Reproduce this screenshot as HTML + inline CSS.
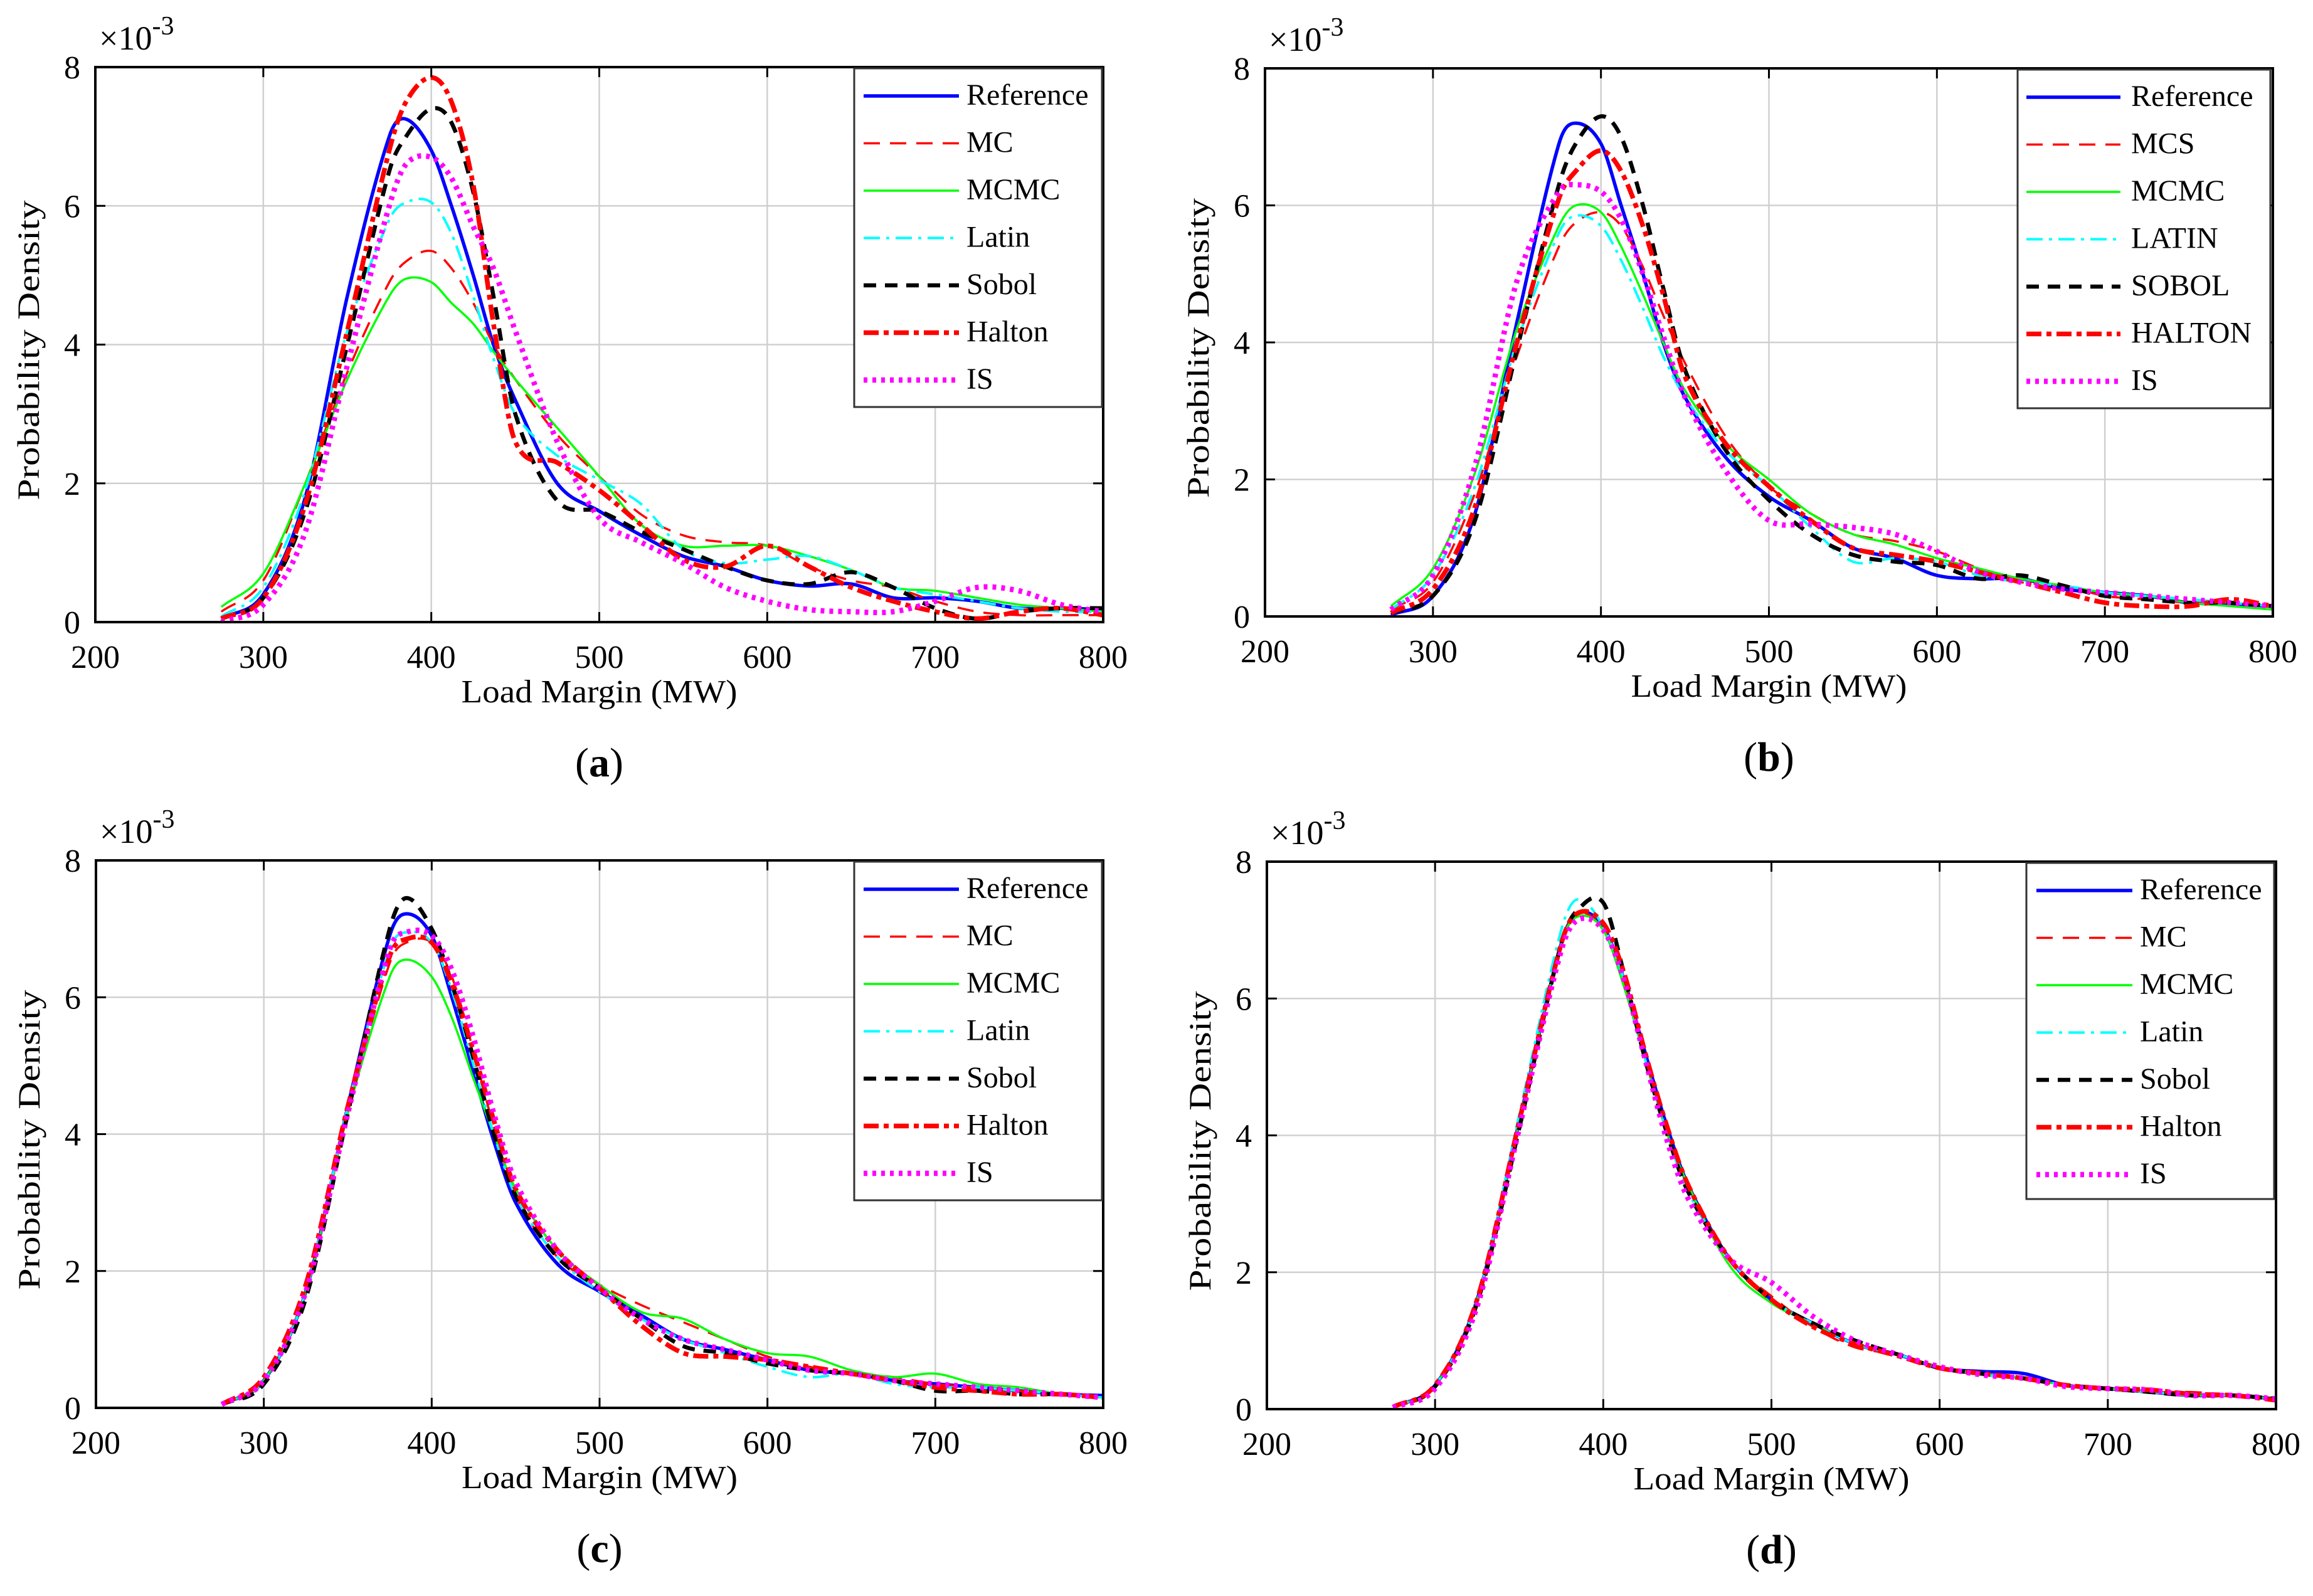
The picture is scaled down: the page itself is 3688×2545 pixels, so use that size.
<!DOCTYPE html>
<html><head><meta charset="utf-8"><style>
html,body{margin:0;padding:0;background:#fff;}
svg{display:block;font-family:"Liberation Serif",serif;}
</style></head><body>
<svg id="fig" width="3688" height="2545" viewBox="0 0 3688 2545" xmlns="http://www.w3.org/2000/svg"></svg>
<script>
// ---- data (y in units of 1e-3) ----
const xVals = [275,300,325,350,375,385,400,412,425,437,450,475,500,525,550,575,600,625,650,675,700,725,750,775,800];
const xTicks = [200,300,400,500,600,700,800];
const yTicks = [0,2,4,6,8];

const aRef   = [0.05,0.4,1.8,4.7,7.0,7.25,6.8,6.0,5.0,4.0,3.2,2.0,1.6,1.25,0.95,0.8,0.6,0.52,0.55,0.35,0.35,0.3,0.2,0.2,0.18];
const aMC    = [0.15,0.6,2.0,3.6,4.9,5.2,5.35,5.1,4.6,4.0,3.5,2.7,2.1,1.55,1.25,1.15,1.1,0.8,0.6,0.5,0.3,0.15,0.1,0.1,0.1];
const aMCMC  = [0.22,0.7,2.0,3.5,4.7,4.95,4.9,4.6,4.3,3.9,3.5,2.8,2.1,1.4,1.1,1.1,1.1,0.95,0.75,0.5,0.45,0.35,0.25,0.2,0.15];
const aLatin = [0.08,0.5,1.9,4.2,5.8,6.05,6.05,5.6,4.7,3.8,3.0,2.4,2.05,1.7,1.05,0.85,0.9,0.95,0.75,0.5,0.4,0.3,0.2,0.15,0.15];
const aSobol = [0.05,0.35,1.6,4.0,6.5,7.0,7.4,7.2,6.2,4.7,3.0,1.75,1.6,1.3,1.05,0.8,0.6,0.55,0.72,0.5,0.2,0.05,0.15,0.2,0.2];
const aHalton= [0.05,0.35,1.7,4.2,6.8,7.5,7.85,7.5,6.3,4.3,2.6,2.3,1.9,1.4,0.9,0.8,1.1,0.8,0.5,0.3,0.15,0.05,0.15,0.2,0.1];
const aIS    = [0.0,0.25,1.3,3.7,6.0,6.6,6.7,6.4,5.7,5.1,4.2,2.6,1.5,1.15,0.85,0.5,0.3,0.18,0.15,0.15,0.3,0.5,0.45,0.25,0.15];

const bRef   = [0.02,0.3,1.5,4.3,6.9,7.2,6.9,6.0,5.0,4.0,3.2,2.3,1.75,1.4,1.0,0.85,0.6,0.55,0.55,0.4,0.35,0.3,0.2,0.18,0.15];
const bMC    = [0.1,0.5,1.8,3.8,5.4,5.75,5.9,5.7,5.1,4.4,3.7,2.6,1.9,1.5,1.2,1.1,0.95,0.7,0.5,0.45,0.3,0.25,0.2,0.2,0.15];
const bMCMC  = [0.15,0.7,2.1,4.2,5.7,6.0,5.9,5.4,4.7,4.0,3.3,2.5,2.0,1.5,1.2,1.05,0.85,0.7,0.55,0.45,0.35,0.3,0.2,0.15,0.1];
const bLatin = [0.1,0.6,1.9,4.0,5.6,5.85,5.7,5.2,4.5,3.8,3.2,2.4,1.9,1.3,0.8,0.85,0.8,0.6,0.5,0.45,0.35,0.3,0.25,0.2,0.15];
const bSobol = [0.05,0.3,1.4,3.9,6.3,6.9,7.3,7.0,6.0,4.8,3.6,2.4,1.7,1.2,0.9,0.8,0.75,0.55,0.6,0.45,0.3,0.25,0.2,0.2,0.15];
const bHalton= [0.05,0.4,1.6,4.0,6.1,6.5,6.8,6.5,5.7,4.7,3.5,2.5,1.9,1.4,1.0,0.9,0.8,0.65,0.5,0.35,0.2,0.15,0.15,0.25,0.15];
const bIS    = [0.1,0.6,2.2,4.9,6.2,6.3,6.2,5.8,5.0,4.1,3.2,2.1,1.4,1.35,1.3,1.2,0.95,0.65,0.5,0.4,0.35,0.3,0.25,0.2,0.15];

const cRef   = [0.05,0.4,1.7,4.4,6.9,7.22,6.9,6.0,4.9,3.9,3.0,2.1,1.7,1.35,1.0,0.85,0.7,0.55,0.5,0.4,0.35,0.3,0.25,0.2,0.18];
const cMC    = [0.05,0.4,1.7,4.3,6.5,6.8,6.8,6.3,5.2,4.1,3.1,2.2,1.8,1.5,1.25,1.0,0.75,0.6,0.5,0.45,0.35,0.3,0.25,0.2,0.15];
const cMCMC  = [0.05,0.4,1.7,4.3,6.3,6.55,6.3,5.7,4.8,4.0,3.2,2.3,1.8,1.4,1.3,1.0,0.8,0.75,0.55,0.45,0.5,0.35,0.3,0.2,0.15];
const cLatin = [0.05,0.4,1.7,4.4,6.7,6.95,6.8,6.1,5.0,4.0,3.1,2.2,1.7,1.3,1.0,0.8,0.6,0.45,0.5,0.35,0.3,0.3,0.25,0.2,0.15];
const cSobol = [0.05,0.35,1.6,4.3,7.0,7.45,7.0,6.2,5.1,4.0,3.1,2.2,1.75,1.3,0.9,0.8,0.65,0.55,0.5,0.4,0.25,0.25,0.2,0.2,0.15];
const cHalton= [0.05,0.45,1.8,4.4,6.6,6.85,6.8,6.2,5.2,4.2,3.2,2.3,1.75,1.2,0.8,0.75,0.7,0.6,0.5,0.4,0.3,0.25,0.2,0.2,0.15];
const cIS    = [0.05,0.4,1.7,4.3,6.7,6.95,6.9,6.4,5.4,4.3,3.3,2.3,1.75,1.3,1.0,0.85,0.7,0.55,0.5,0.4,0.35,0.3,0.25,0.2,0.15];

const dRef   = [0.03,0.35,1.6,4.2,6.8,7.25,7.05,6.3,5.2,4.2,3.3,2.2,1.6,1.25,0.95,0.8,0.6,0.55,0.52,0.35,0.3,0.25,0.2,0.2,0.15];
const dMC    = [0.03,0.35,1.6,4.2,6.8,7.25,7.0,6.3,5.1,4.1,3.3,2.2,1.65,1.2,0.9,0.8,0.6,0.5,0.45,0.35,0.3,0.25,0.25,0.2,0.12];
const dMCMC  = [0.03,0.35,1.6,4.2,6.8,7.2,7.0,6.2,5.1,4.1,3.3,2.1,1.55,1.25,0.95,0.8,0.62,0.52,0.45,0.35,0.3,0.25,0.2,0.2,0.15];
const dLatin = [0.03,0.35,1.6,4.3,7.0,7.45,7.05,6.3,5.1,4.1,3.2,2.2,1.6,1.25,0.95,0.8,0.6,0.5,0.45,0.35,0.28,0.25,0.2,0.2,0.15];
const dSobol = [0.03,0.33,1.55,4.1,6.8,7.3,7.4,6.4,5.1,4.1,3.2,2.2,1.6,1.25,1.0,0.8,0.6,0.52,0.45,0.35,0.3,0.25,0.2,0.2,0.15];
const dHalton= [0.03,0.35,1.6,4.2,6.8,7.25,7.1,6.4,5.2,4.2,3.3,2.2,1.6,1.2,0.95,0.78,0.6,0.52,0.45,0.35,0.3,0.28,0.22,0.2,0.13];
const dIS    = [0.02,0.3,1.5,4.1,6.7,7.15,7.0,6.3,5.1,4.0,3.1,2.2,1.85,1.35,1.0,0.8,0.62,0.5,0.45,0.33,0.3,0.28,0.2,0.2,0.15];

const legendA = ["Reference","MC","MCMC","Latin","Sobol","Halton","IS"];
const legendB = ["Reference","MCS","MCMC","LATIN","SOBOL","HALTON","IS"];

// ---- rendering ----
const NS = "http://www.w3.org/2000/svg";
const svg = document.getElementById("fig");
function mk(tag, attrs, parent){
  const e = document.createElementNS(NS, tag);
  for (const k in attrs) e.setAttribute(k, attrs[k]);
  (parent||svg).appendChild(e);
  return e;
}
const styles = [
  {stroke:"#0000ff", w:5.5, dash:""},
  {stroke:"#ff0000", w:3.5, dash:"26 16"},
  {stroke:"#00ff00", w:3.5, dash:""},
  {stroke:"#00ffff", w:4, dash:"26 10 5 10"},
  {stroke:"#000000", w:6.5, dash:"20 14"},
  {stroke:"#ff0000", w:7.5, dash:"24 8 8 8"},
  {stroke:"#ff00ff", w:8.5, dash:"6 8"}
];
const panels = [
  {id:"a", L:152, R:1759, T:107, B:992, series:[aRef,aMC,aMCMC,aLatin,aSobol,aHalton,aIS], leg:legendA,
   lg:{x0:1362,x1:1757,y0:109,y1:649,lx0:1377,lx1:1529,tx:1541}},
  {id:"b", L:2017, R:3624, T:109, B:983, series:[bRef,bMC,bMCMC,bLatin,bSobol,bHalton,bIS], leg:legendB,
   lg:{x0:3217,x1:3620,y0:111,y1:651,lx0:3231,lx1:3381,tx:3398}},
  {id:"c", L:153, R:1759, T:1372, B:2245, series:[cRef,cMC,cMCMC,cLatin,cSobol,cHalton,cIS], leg:legendA,
   lg:{x0:1362,x1:1757,y0:1374,y1:1914,lx0:1377,lx1:1529,tx:1541}},
  {id:"d", L:2020, R:3629, T:1374, B:2247, series:[dRef,dMC,dMCMC,dLatin,dSobol,dHalton,dIS], leg:legendA,
   lg:{x0:3231,x1:3626,y0:1376,y1:1912,lx0:3247,lx1:3400,tx:3412}}
];
// cubic Hermite through points with slopes from neighbouring chords (handles uneven spacing)
function pathFrom(pts){
  const n = pts.length, m = [];
  for (let i=0;i<n;i++){
    const a = pts[Math.max(0,i-1)], b = pts[Math.min(n-1,i+1)];
    m.push((b[1]-a[1])/(b[0]-a[0]));
  }
  let d = "M"+pts[0][0].toFixed(1)+","+pts[0][1].toFixed(1);
  for (let i=0;i<n-1;i++){
    const p1=pts[i], p2=pts[i+1], h=(p2[0]-p1[0])/3;
    const c1=[p1[0]+h, p1[1]+m[i]*h];
    const c2=[p2[0]-h, p2[1]-m[i+1]*h];
    d+=" C"+c1[0].toFixed(1)+","+c1[1].toFixed(1)+" "+c2[0].toFixed(1)+","+c2[1].toFixed(1)+" "+p2[0].toFixed(1)+","+p2[1].toFixed(1);
  }
  return d;
}
const sub = ["a","b","c","d"];
panels.forEach((P,pi)=>{
  const g = mk("g",{});
  
  
  const sx = v => P.L + (v-200)/(600)*(P.R-P.L);
  const sy = v => P.B - v/8*(P.B-P.T);
  xTicks.slice(1,-1).forEach(t=>{
    const l=mk("line",{x1:sx(t),x2:sx(t),y1:P.T,y2:P.B,stroke:"#d0d0d0","stroke-width":2.5},g);
    
    
  });
  yTicks.slice(1,-1).forEach(t=>{
    const l=mk("line",{x1:P.L,x2:P.R,y1:sy(t),y2:sy(t),stroke:"#d0d0d0","stroke-width":2.5},g);
    
    
  });
  const clipId="clip"+P.id;
  const cp=mk("clipPath",{id:clipId},g);
  mk("rect",{x:P.L,y:P.T,width:P.R-P.L,height:P.B-P.T},cp);
  P.series.forEach((ys,si)=>{
    const pts = xVals.map((x,i)=>[sx(x), sy(ys[i])]);
    const s = styles[si];
    const p = mk("path",{d:pathFrom(pts),fill:"none",stroke:s.stroke,"stroke-width":s.w,"stroke-dasharray":s.dash,"clip-path":"url(#"+clipId+")"},g);
    
    
  });
  const box = mk("rect",{x:P.L,y:P.T,width:P.R-P.L,height:P.B-P.T,fill:"none",stroke:"#000","stroke-width":4},g);
  
  
  xTicks.forEach(t=>{
    mk("line",{x1:sx(t),x2:sx(t),y1:P.B,y2:P.B-16,stroke:"#000","stroke-width":3},g);
    mk("line",{x1:sx(t),x2:sx(t),y1:P.T,y2:P.T+16,stroke:"#000","stroke-width":3},g);
    const tx = mk("text",{x:sx(t),y:P.B+73,"font-size":52,"text-anchor":"middle"},g);
    tx.textContent = t;
    
    
  });
  yTicks.forEach(t=>{
    mk("line",{x1:P.L,x2:P.L+16,y1:sy(t),y2:sy(t),stroke:"#000","stroke-width":3},g);
    mk("line",{x1:P.R,x2:P.R-16,y1:sy(t),y2:sy(t),stroke:"#000","stroke-width":3},g);
    const ty = mk("text",{x:P.L-24,y:sy(t)+18,"font-size":52,"text-anchor":"end"},g);
    ty.textContent = t;
    
    
  });
  const ex = mk("text",{x:P.L+6,y:P.T-28,"font-size":54},g);
  
  
  ex.innerHTML = '×10<tspan dy="-24" font-size="42">-3</tspan>';
  const xt = mk("text",{x:(P.L+P.R)/2,y:P.B+128,"font-size":52,"text-anchor":"middle",textLength:440,lengthAdjust:"spacingAndGlyphs"},g);
  xt.textContent = "Load Margin (MW)";
  
  
  const cy=(P.T+P.B)/2+9;
  const yt = mk("text",{x:0,y:0,"font-size":50,"text-anchor":"middle",textLength:478,lengthAdjust:"spacingAndGlyphs",transform:"translate("+(P.L-90)+","+cy+") rotate(-90)"},g);
  yt.textContent = "Probability Density";
  
  
  const lg = P.lg;
  const lgG = mk("g",{},g);
  
  
  mk("rect",{x:lg.x0,y:lg.y0,width:lg.x1-lg.x0,height:lg.y1-lg.y0,fill:"#fff",stroke:"#333","stroke-width":3},lgG);
  P.leg.forEach((name,i)=>{
    const y = lg.y0 + 44 + i*75.5;
    const s = styles[i];
    const ln = mk("line",{x1:lg.lx0,x2:lg.lx1,y1:y,y2:y,stroke:s.stroke,"stroke-width":s.w,"stroke-dasharray":s.dash},lgG);
    
    
    const t = mk("text",{x:lg.tx,y:y+14,"font-size":48},lgG);
    t.textContent = name;
    
    
  });
  const sl = mk("text",{x:(P.L+P.R)/2,y:P.B+246,"font-size":66,"text-anchor":"middle"},g);
  sl.innerHTML = '(<tspan font-weight="bold">'+sub[pi]+'</tspan>)';
  
  
});
</script>
</body></html>
